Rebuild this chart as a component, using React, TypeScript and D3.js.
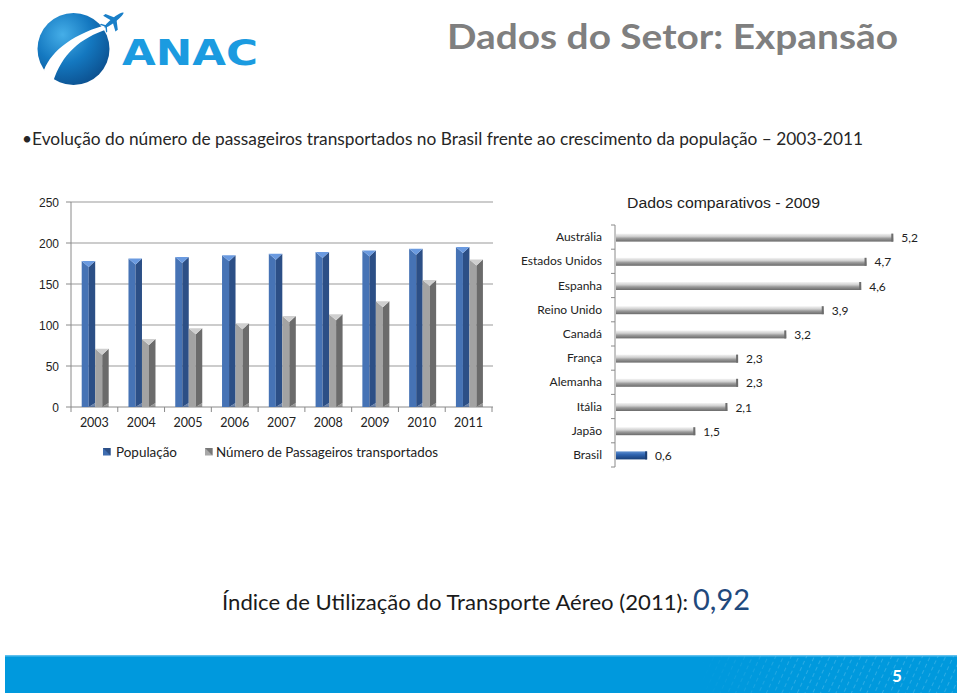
import React from "react";
import * as d3 from "d3";

const years = ["2003", "2004", "2005", "2006", "2007", "2008", "2009", "2010", "2011"];
const population = [178, 181, 183, 185, 187, 189, 191, 193, 195];
const passengers = [71, 83, 96, 102, 111, 113, 129, 155, 180];
const yTicks = [0, 50, 100, 150, 200, 250];

const countries = ["Austrália", "Estados Unidos", "Espanha", "Reino Unido", "Canadá", "França", "Alemanha", "Itália", "Japão", "Brasil"];
const usageIndex = [5.2, 4.7, 4.6, 3.9, 3.2, 2.3, 2.3, 2.1, 1.5, 0.6];
const usageLabels = ["5,2", "4,7", "4,6", "3,9", "3,2", "2,3", "2,3", "2,1", "1,5", "0,6"];

const CAL = "Lato, 'Open Sans', sans-serif";
const ARIAL = "'Liberation Sans', Arial, sans-serif";

function Bar3D({ x, w, top, bottom, front, side, cap }: any) {
  const split = x + w * 0.52;
  const d = 6;
  return (
    <g>
      <polygon points={`${x},${top} ${split},${top + d} ${split},${bottom} ${x},${bottom}`} fill={front} />
      <polygon points={`${split},${top + d} ${x + w},${top} ${x + w},${bottom - 4} ${split},${bottom}`} fill={side} />
      <polygon points={`${x},${top} ${x + w},${top} ${split},${top + d}`} fill={cap} />
      <polygon points={`${split},${bottom} ${x + w},${bottom - 4} ${x + w},${bottom} `} fill={side} opacity={0.7} />
    </g>
  );
}

export default function App() {
  // left chart scales
  const xb = d3.scaleBand<string>().domain(years).range([71, 492]).paddingInner(0).paddingOuter(0);
  const y = d3.scaleLinear().domain([0, 250]).range([407, 202]);
  const bw = 13.5;
  const off = 10.7;

  // right chart scales
  const yb = d3.scaleBand<string>().domain(countries).range([225, 467]);
  const xr = d3.scaleLinear().domain([0, 5.2]).range([615, 893.3]);

  return (
    <svg width={960} height={696} style={{ position: "absolute", left: 0, top: 0, background: "#fff" }}>
      <defs>
        <radialGradient id="globe" cx="0.35" cy="0.3" r="0.8">
          <stop offset="0" stopColor="#45aee8" />
          <stop offset="0.5" stopColor="#1478c0" />
          <stop offset="1" stopColor="#0b4c8a" />
        </radialGradient>
        <linearGradient id="hbar" x1="0" y1="0" x2="0" y2="1">
          <stop offset="0" stopColor="#f4f4f4" />
          <stop offset="0.35" stopColor="#d0d0d0" />
          <stop offset="0.6" stopColor="#9a9a9a" />
          <stop offset="1" stopColor="#6a6a6a" />
        </linearGradient>
        <linearGradient id="hbarBlue" x1="0" y1="0" x2="0" y2="1">
          <stop offset="0" stopColor="#5f8fd0" />
          <stop offset="0.4" stopColor="#2f64b0" />
          <stop offset="1" stopColor="#173e78" />
        </linearGradient>
        <pattern id="hatch" width="7" height="7" patternUnits="userSpaceOnUse" patternTransform="rotate(25)">
          <line x1="0" y1="0" x2="0" y2="4" stroke="#7fcdf2" strokeWidth="1" />
        </pattern>
        <linearGradient id="hatchFade" x1="0" y1="0" x2="1" y2="0">
          <stop offset="0" stopColor="#fff" stopOpacity="0" />
          <stop offset="0.4" stopColor="#fff" stopOpacity="1" />
          <stop offset="1" stopColor="#fff" stopOpacity="1" />
        </linearGradient>
        <mask id="hatchMask">
          <rect x={700} y={655} width={260} height={40} fill="url(#hatchFade)" />
        </mask>
      </defs>

      {/* Logo */}
      <g>
        <circle cx={73.5} cy={49} r={36} fill="url(#globe)" />
        <path d="M 44 70 C 52 50, 74 33, 110 24 L 108 29 C 80 38, 62 54, 53 82 C 49 80, 46 76, 44 70 Z" fill="#ffffff" />
        <g transform="translate(114,20) rotate(-38)" fill="#1a7fc8">
          <ellipse cx={0} cy={0} rx={12} ry={2.2} />
          <polygon points="-2,0 3,0 -3,-10 -6,-10" />
          <polygon points="-2,0 3,0 -3,10 -6,10" />
          <polygon points="-9,0 -11,0 -14,-5 -12.5,-5" />
          <polygon points="-9,0 -11,0 -14,5 -12.5,5" />
        </g>
        <text x={122} y={65} fontFamily="'DejaVu Sans', Arial, sans-serif" fontWeight="bold" fontSize={36} fill="#1b9be0" textLength={136} lengthAdjust="spacingAndGlyphs">ANAC</text>
      </g>

      {/* Title */}
      <text x={447} y={49} fontFamily={CAL} fontWeight="bold" fontSize={35} fill="#7f7f7f" textLength={451} lengthAdjust="spacingAndGlyphs">Dados do Setor: Expansão</text>

      {/* Subtitle */}
      <text x={22} y={145} fontFamily={CAL} fontSize={17} fill="#262626" textLength={841} lengthAdjust="spacingAndGlyphs">•Evolução do número de passageiros transportados no Brasil frente ao crescimento da população – 2003-2011</text>

      {/* Left chart gridlines & axis */}
      <g>
        {yTicks.map((t) => (
          <g key={t}>
            {t > 0 && <line x1={71} x2={493} y1={y(t)} y2={y(t)} stroke="#9a9a9a" strokeWidth={1.2} />}
            <line x1={66} x2={71} y1={y(t)} y2={y(t)} stroke="#8a8a8a" strokeWidth={1} />
            <text x={59} y={y(t) + 4.5} textAnchor="end" fontFamily={ARIAL} fontSize={12} fill="#222">{t}</text>
          </g>
        ))}
        <line x1={71} x2={71} y1={202} y2={407} stroke="#8a8a8a" strokeWidth={1} />
        <line x1={71} x2={493} y1={407} y2={407} stroke="#8a8a8a" strokeWidth={1} />
        {years.map((yr, i) => (
          <line key={"t" + yr} x1={xb(yr)! + (i === 0 ? 0 : 0)} x2={xb(yr)!} y1={407} y2={412} stroke="#8a8a8a" />
        ))}
        <line x1={492} x2={492} y1={407} y2={412} stroke="#8a8a8a" />
        {years.map((yr) => (
          <text key={"l" + yr} x={xb(yr)! + xb.bandwidth() / 2} y={427} textAnchor="middle" fontFamily={CAL} fontSize={12.5} fill="#222">{yr}</text>
        ))}
        {years.map((yr, i) => (
          <g key={"b" + yr}>
            <Bar3D x={xb(yr)! + off} w={bw} top={y(population[i])} bottom={407} front="#4673b5" side="#2c4f86" cap="#6a9ae0" />
            <Bar3D x={xb(yr)! + off + bw} w={bw} top={y(passengers[i])} bottom={407} front="#a3a3a3" side="#6b6b6b" cap="#cfcfcf" />
          </g>
        ))}
      </g>

      {/* Left legend */}
      <g>
        <rect x={103} y={448} width={7.5} height={7.5} fill="#3f6db0" />
        <polygon points="103,448 110.5,448 110.5,455.5" fill="#2c4f86" />
        <text x={116} y={457} fontFamily={CAL} fontSize={13} fill="#222" textLength={61} lengthAdjust="spacingAndGlyphs">População</text>
        <rect x={205} y={448} width={7.5} height={7.5} fill="#a8a8a8" />
        <polygon points="205,448 212.5,448 212.5,455.5" fill="#777" />
        <text x={216} y={457} fontFamily={CAL} fontSize={13} fill="#222" textLength={222} lengthAdjust="spacingAndGlyphs">Número de Passageiros transportados</text>
      </g>

      {/* Right chart */}
      <g>
        <text x={627} y={208} fontFamily={ARIAL} fontSize={14} fill="#222" textLength={193} lengthAdjust="spacingAndGlyphs">Dados comparativos - 2009</text>
        <line x1={615} x2={615} y1={225} y2={467} stroke="#8a8a8a" />
        {countries.map((c) => (
          <line key={"rt" + c} x1={611} x2={615} y1={yb(c)!} y2={yb(c)!} stroke="#8a8a8a" />
        ))}
        <line x1={611} x2={615} y1={467} y2={467} stroke="#8a8a8a" />
        {countries.map((c, i) => {
          const cy = yb(c)! + yb.bandwidth() / 2;
          const isBr = c === "Brasil";
          const xe = xr(usageIndex[i]);
          return (
            <g key={"rb" + c}>
              <text x={602} y={cy + 4} textAnchor="end" fontFamily={CAL} fontSize={12} fill="#222">{c}</text>
              <rect x={616} y={cy - 3.5} width={xe - 616} height={8} fill={isBr ? "url(#hbarBlue)" : "url(#hbar)"} />
              <rect x={xe - 2} y={cy - 3.5} width={2} height={8} fill={isBr ? "#1c3f73" : "#6d6d6d"} />
              <text x={xe + 8} y={cy + 5} fontFamily={CAL} fontSize={12} fill="#222">{usageLabels[i]}</text>
            </g>
          );
        })}
      </g>

      {/* Bottom index */}
      <text x={222} y={610} fontFamily={CAL} fontSize={22} fill="#1a1a1a">
        <tspan textLength={466} lengthAdjust="spacingAndGlyphs">Índice de Utilização do Transporte Aéreo (2011): </tspan>
      </text>
      <text x={693} y={610} fontFamily={CAL} fontSize={29} fill="#1f497d" textLength={57} lengthAdjust="spacingAndGlyphs">0,92</text>

      {/* Footer */}
      <rect x={5} y={655} width={952} height={38} fill="#0099dd" />
      <rect x={5} y={655} width={952} height={1.5} fill="#5fc0ee" />
      <rect x={700} y={656} width={257} height={37} fill="url(#hatch)" mask="url(#hatchMask)" opacity={0.7} />
      <text x={897} y={682} textAnchor="middle" fontFamily={CAL} fontWeight="bold" fontSize={17} fill="#ffffff">5</text>
    </svg>
  );
}
